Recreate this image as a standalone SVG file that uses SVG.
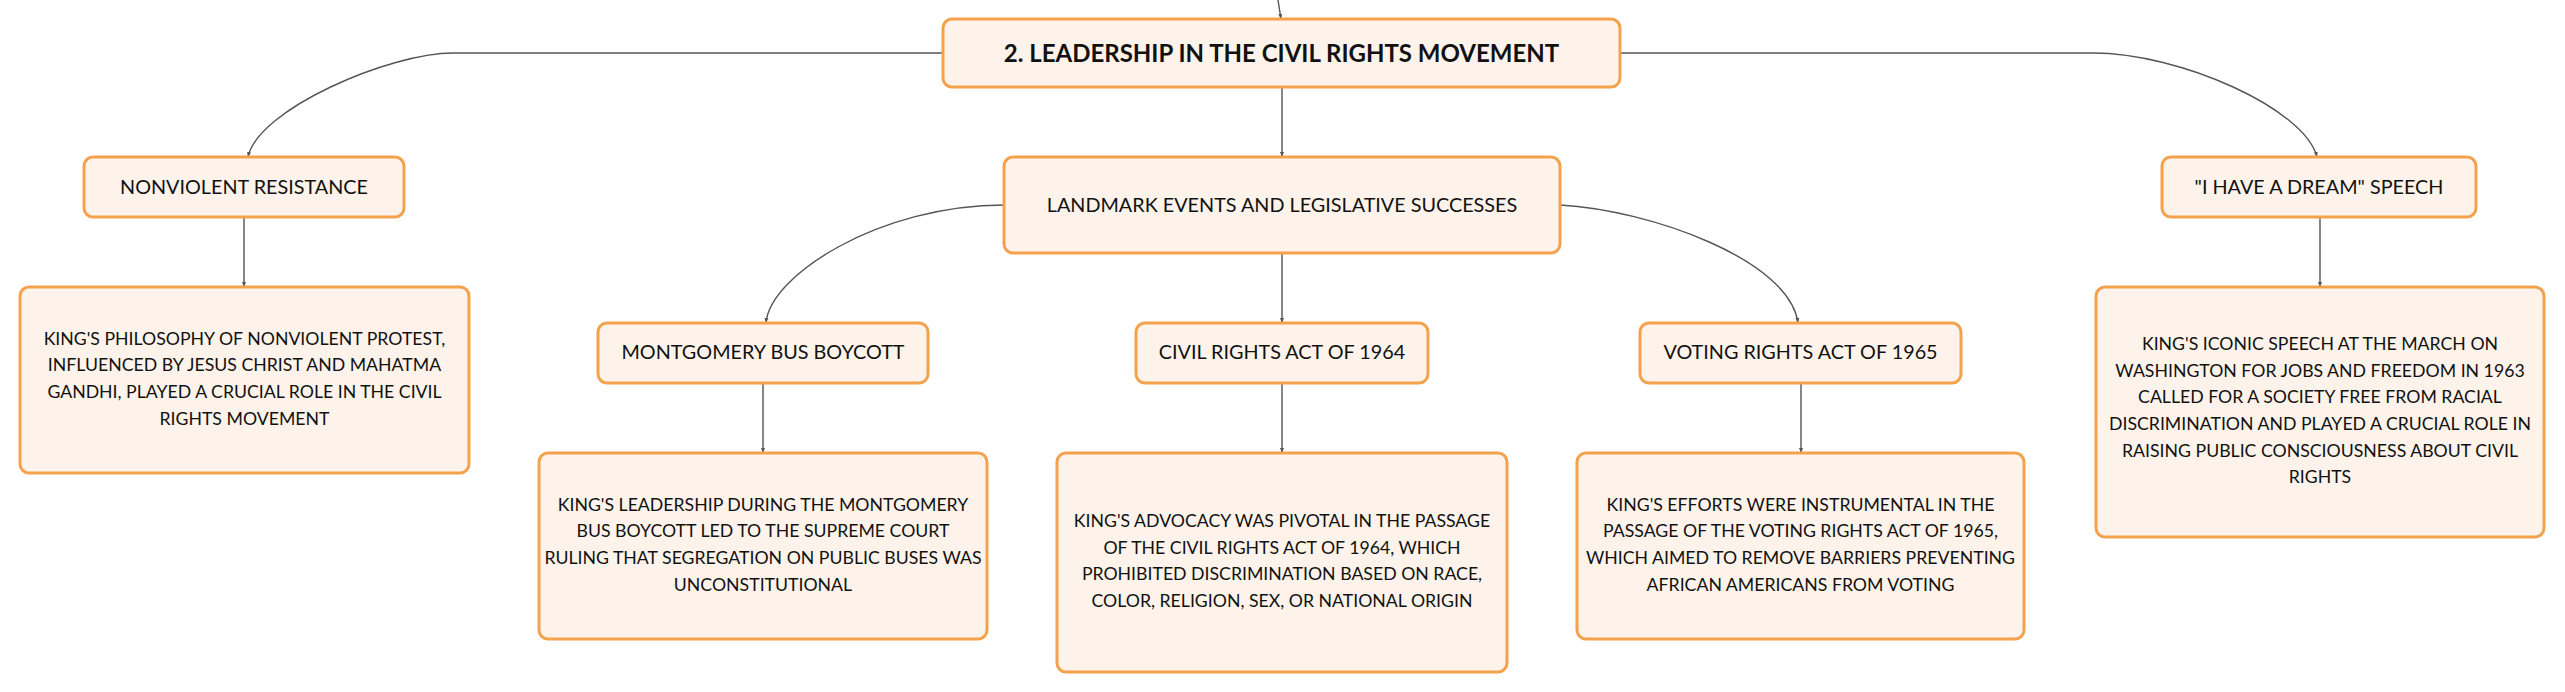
<svg xmlns="http://www.w3.org/2000/svg" width="2565" height="692" viewBox="0 0 2565 692">
<defs>
<marker id="arr" viewBox="0 0 10 10" refX="10" refY="5" markerWidth="5" markerHeight="5" orient="auto" markerUnits="userSpaceOnUse">
<path d="M0,1 L10,5 L0,9 z" fill="#555"/>
</marker>
<style>
.box{fill:#fdf3ea;stroke:#f4a24d;stroke-width:3}
.conn{fill:none;stroke:#555;stroke-width:1.4;marker-end:url(#arr)}
text{font-family:Lato,"Noto Sans","Liberation Sans",sans-serif;fill:#111;text-anchor:middle}
.title{font-size:24px;font-weight:bold}
.lbl{font-size:19.8px}
.det{font-size:17.7px}
</style>
</defs>
<rect width="2565" height="692" fill="#ffffff"/>
<g id="connectors">
<path class="conn" d="M1278,0 L1281,19"/>
<path class="conn" d="M1282,87 L1282,157"/>
<path class="conn" d="M943,53 L453,53 C390,53 258,109 248,157"/>
<path class="conn" d="M1620,53 L2093,53 C2180,53 2305,109 2317,157"/>
<path class="conn" d="M1004,205 C880,205 770,275 766,323"/>
<path class="conn" d="M1282,253 L1282,323"/>
<path class="conn" d="M1560,205 C1650,210 1790,260 1798,323"/>
<path class="conn" d="M244,217 L244,287"/>
<path class="conn" d="M763,383 L763,453"/>
<path class="conn" d="M1282,383 L1282,453"/>
<path class="conn" d="M1801,383 L1801,453"/>
<path class="conn" d="M2320,217 L2320,287"/>
</g>
<g id="root">
<rect class="box" x="943" y="19" width="677" height="68" rx="9"/>
<text class="title" x="1281.5" y="62">2. LEADERSHIP IN THE CIVIL RIGHTS MOVEMENT</text>
</g>
<g id="nonviolent">
<rect class="box" x="84" y="157" width="320" height="60" rx="9"/>
<text class="lbl" x="244" y="194">NONVIOLENT RESISTANCE</text>
</g>
<g id="nonviolent-detail">
<rect class="box" x="20" y="287" width="449" height="186" rx="9"/>
<text class="det" x="244.5" y="344.5">KING'S PHILOSOPHY OF NONVIOLENT PROTEST,</text>
<text class="det" x="244.5" y="371.2">INFLUENCED BY JESUS CHRIST AND MAHATMA</text>
<text class="det" x="244.5" y="397.9">GANDHI, PLAYED A CRUCIAL ROLE IN THE CIVIL</text>
<text class="det" x="244.5" y="424.6">RIGHTS MOVEMENT</text>
</g>
<g id="landmark">
<rect class="box" x="1004" y="157" width="556" height="96" rx="9"/>
<text class="lbl" x="1282" y="212">LANDMARK EVENTS AND LEGISLATIVE SUCCESSES</text>
</g>
<g id="montgomery">
<rect class="box" x="598" y="323" width="330" height="60" rx="9"/>
<text class="lbl" x="763" y="359">MONTGOMERY BUS BOYCOTT</text>
</g>
<g id="montgomery-detail">
<rect class="box" x="539" y="453" width="448" height="186" rx="9"/>
<text class="det" x="763" y="510.5">KING'S LEADERSHIP DURING THE MONTGOMERY</text>
<text class="det" x="763" y="537.2">BUS BOYCOTT LED TO THE SUPREME COURT</text>
<text class="det" x="763" y="563.9">RULING THAT SEGREGATION ON PUBLIC BUSES WAS</text>
<text class="det" x="763" y="590.6">UNCONSTITUTIONAL</text>
</g>
<g id="civil-rights-act">
<rect class="box" x="1136" y="323" width="292" height="60" rx="9"/>
<text class="lbl" x="1282" y="359">CIVIL RIGHTS ACT OF 1964</text>
</g>
<g id="civil-rights-act-detail">
<rect class="box" x="1057" y="453" width="450" height="219" rx="9"/>
<text class="det" x="1282" y="527">KING'S ADVOCACY WAS PIVOTAL IN THE PASSAGE</text>
<text class="det" x="1282" y="553.7">OF THE CIVIL RIGHTS ACT OF 1964, WHICH</text>
<text class="det" x="1282" y="580.4">PROHIBITED DISCRIMINATION BASED ON RACE,</text>
<text class="det" x="1282" y="607.1">COLOR, RELIGION, SEX, OR NATIONAL ORIGIN</text>
</g>
<g id="voting-rights-act">
<rect class="box" x="1640" y="323" width="321" height="60" rx="9"/>
<text class="lbl" x="1800.5" y="359">VOTING RIGHTS ACT OF 1965</text>
</g>
<g id="voting-rights-act-detail">
<rect class="box" x="1577" y="453" width="447" height="186" rx="9"/>
<text class="det" x="1800.5" y="510.5">KING'S EFFORTS WERE INSTRUMENTAL IN THE</text>
<text class="det" x="1800.5" y="537.2">PASSAGE OF THE VOTING RIGHTS ACT OF 1965,</text>
<text class="det" x="1800.5" y="563.9">WHICH AIMED TO REMOVE BARRIERS PREVENTING</text>
<text class="det" x="1800.5" y="590.6">AFRICAN AMERICANS FROM VOTING</text>
</g>
<g id="dream">
<rect class="box" x="2162" y="157" width="314" height="60" rx="9"/>
<text class="lbl" x="2319" y="194">"I HAVE A DREAM" SPEECH</text>
</g>
<g id="dream-detail">
<rect class="box" x="2096" y="287" width="448" height="250" rx="9"/>
<text class="det" x="2320" y="349.8">KING'S ICONIC SPEECH AT THE MARCH ON</text>
<text class="det" x="2320" y="376.5">WASHINGTON FOR JOBS AND FREEDOM IN 1963</text>
<text class="det" x="2320" y="403.2">CALLED FOR A SOCIETY FREE FROM RACIAL</text>
<text class="det" x="2320" y="429.9">DISCRIMINATION AND PLAYED A CRUCIAL ROLE IN</text>
<text class="det" x="2320" y="456.6">RAISING PUBLIC CONSCIOUSNESS ABOUT CIVIL</text>
<text class="det" x="2320" y="483.3">RIGHTS</text>
</g>
</svg>
